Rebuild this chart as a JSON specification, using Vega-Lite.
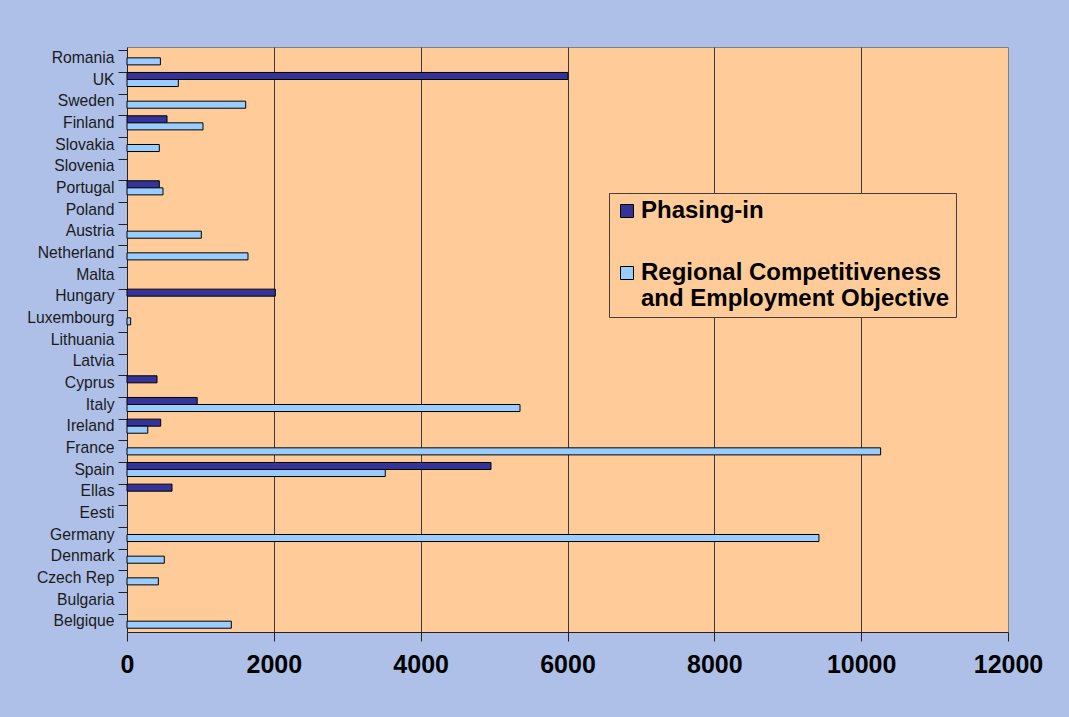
{
  "$schema": "https://vega.github.io/schema/vega-lite/v6.json",
  "width": 881,
  "height": 585,
  "autosize": {"type": "none"},
  "padding": {"left": 127, "top": 47, "right": 61, "bottom": 85},
  "background": "#AEC0E8",
  "config": {
    "font": "Liberation Sans, Arial, sans-serif",
    "view": {"fill": "#FFCC99", "stroke": "#808080", "strokeWidth": 1}
  },
  "data": {
    "values": [
      {"country": "Romania", "series": "Regional Competitiveness and Employment Objective", "value": 455},
      {"country": "UK", "series": "Phasing-in", "value": 6005},
      {"country": "UK", "series": "Regional Competitiveness and Employment Objective", "value": 699},
      {"country": "Sweden", "series": "Regional Competitiveness and Employment Objective", "value": 1617},
      {"country": "Finland", "series": "Phasing-in", "value": 545},
      {"country": "Finland", "series": "Regional Competitiveness and Employment Objective", "value": 1035},
      {"country": "Slovakia", "series": "Regional Competitiveness and Employment Objective", "value": 440},
      {"country": "Portugal", "series": "Phasing-in", "value": 440},
      {"country": "Portugal", "series": "Regional Competitiveness and Employment Objective", "value": 490},
      {"country": "Austria", "series": "Regional Competitiveness and Employment Objective", "value": 1012},
      {"country": "Netherland", "series": "Regional Competitiveness and Employment Objective", "value": 1648},
      {"country": "Hungary", "series": "Phasing-in", "value": 2020},
      {"country": "Luxembourg", "series": "Regional Competitiveness and Employment Objective", "value": 50},
      {"country": "Cyprus", "series": "Phasing-in", "value": 409},
      {"country": "Italy", "series": "Phasing-in", "value": 956},
      {"country": "Italy", "series": "Regional Competitiveness and Employment Objective", "value": 5353},
      {"country": "Ireland", "series": "Phasing-in", "value": 459},
      {"country": "Ireland", "series": "Regional Competitiveness and Employment Objective", "value": 283},
      {"country": "France", "series": "Regional Competitiveness and Employment Objective", "value": 10265},
      {"country": "Spain", "series": "Phasing-in", "value": 4958},
      {"country": "Spain", "series": "Regional Competitiveness and Employment Objective", "value": 3518},
      {"country": "Ellas", "series": "Phasing-in", "value": 613},
      {"country": "Germany", "series": "Regional Competitiveness and Employment Objective", "value": 9425},
      {"country": "Denmark", "series": "Regional Competitiveness and Employment Objective", "value": 508},
      {"country": "Czech Rep", "series": "Regional Competitiveness and Employment Objective", "value": 427},
      {"country": "Belgique", "series": "Regional Competitiveness and Employment Objective", "value": 1421}
    ]
  },
  "layer": [
    {
      "mark": {"type": "bar", "stroke": "#000000", "strokeWidth": 1},
      "encoding": {
        "y": {
          "field": "country",
          "type": "nominal",
          "scale": {
            "domain": ["Romania", "UK", "Sweden", "Finland", "Slovakia", "Slovenia", "Portugal", "Poland", "Austria", "Netherland", "Malta", "Hungary", "Luxembourg", "Lithuania", "Latvia", "Cyprus", "Italy", "Ireland", "France", "Spain", "Ellas", "Eesti", "Germany", "Denmark", "Czech Rep", "Bulgaria", "Belgique"],
            "paddingInner": 0.35,
            "paddingOuter": 0.175
          },
          "axis": {
            "orient": "left",
            "title": null,
            "labels": false,
            "ticks": true,
            "bandPosition": 0,
            "tickSize": 9,
            "tickColor": "#222222",
            "tickWidth": 1,
            "domainColor": "#222222",
            "domainWidth": 1,
            "grid": false
          }
        },
        "yOffset": {
          "field": "series",
          "type": "nominal",
          "scale": {"domain": ["Phasing-in", "Regional Competitiveness and Employment Objective"]}
        },
        "x": {
          "field": "value",
          "type": "quantitative",
          "scale": {"domain": [0, 12000], "nice": false},
          "axis": {
            "title": null,
            "values": [0, 2000, 4000, 6000, 8000, 10000, 12000],
            "format": "d",
            "labelFlush": false,
            "labelFontSize": 25,
            "labelFontWeight": "bold",
            "labelColor": "#000000",
            "labelPadding": 11,
            "tickSize": 9,
            "tickColor": "#222222",
            "domainColor": "#222222",
            "grid": true,
            "gridColor": {"condition": {"test": "datum.value == 12000 || datum.value == 0", "value": "#808080"}, "value": "#3a3a3a"},
            "gridWidth": 1,
            "gridOpacity": 1
          }
        },
        "fill": {
          "field": "series",
          "type": "nominal",
          "scale": {
            "domain": ["Phasing-in", "Regional Competitiveness and Employment Objective"],
            "range": ["#333399", "#99CCFF"]
          },
          "legend": {
            "orient": "none",
            "legendX": 482,
            "legendY": 146,
            "title": null,
            "fillColor": "#FFCC99",
            "strokeColor": "#404040",
            "padding": 6,
            "symbolType": "square",
            "symbolSize": 169,
            "symbolStrokeColor": "#000000",
            "symbolStrokeWidth": 1,
            "symbolOpacity": 1,
            "labelFontSize": 24,
            "labelFontWeight": "bold",
            "labelColor": "#000000",
            "labelOffset": 2,
            "labelLimit": 500,
            "rowPadding": 38,
            "labelExpr": "datum.value == 'Phasing-in' ? 'Phasing-in' : ['Regional Competitiveness', 'and Employment Objective']"
          }
        }
      }
    },
    {
      "mark": {"type": "point", "opacity": 0},
      "encoding": {
        "y": {
          "field": "country",
          "type": "nominal",
          "axis": {
            "orient": "left",
            "title": null,
            "labels": true,
            "ticks": false,
            "tickSize": 0,
            "domain": false,
            "grid": false,
            "labelFontSize": 15.7,
            "labelColor": "#1a1a1a",
            "labelPadding": 13
          }
        }
      }
    }
  ],
  "resolve": {"axis": {"y": "independent"}}
}
